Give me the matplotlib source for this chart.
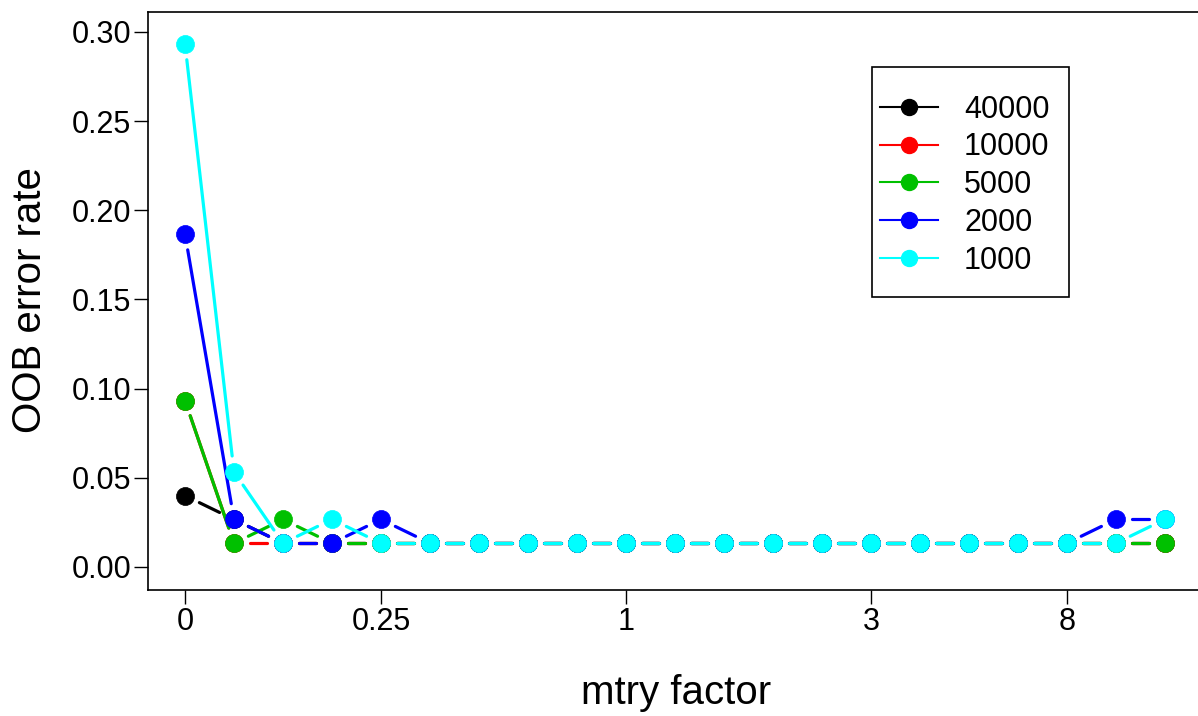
import numpy as np
import matplotlib
matplotlib.use("Agg")
import matplotlib.pyplot as plt
from matplotlib.lines import Line2D
from matplotlib.patches import Rectangle

plt.rcParams['font.family'] = ['Liberation Sans', 'DejaVu Sans']

# mtry factor positions (21 steps), labelled ones only
x_pos = list(range(21))
tick_pos = [0, 4, 9, 14, 18]
tick_labels = ['0', '0.25', '1', '3', '8']

a = 1 / 75  # one error in 75 OOB samples
ntree_labels = ['40000', '10000', '5000', '2000', '1000']
colors = ['black', 'red', '#00c000', 'blue', 'cyan']

err_40000 = [3*a, 2*a, a, a, a, a, a, a, a, a, a, a, a, a, a, a, a, a, a, a, a]
err_10000 = [7*a, a, a, a, a, a, a, a, a, a, a, a, a, a, a, a, a, a, a, a, a]
err_5000 = [7*a, a, 2*a, a, a, a, a, a, a, a, a, a, a, a, a, a, a, a, a, a, a]
err_2000 = [14*a, 2*a, a, a, 2*a, a, a, a, a, a, a, a, a, a, a, a, a, a, a, 2*a, 2*a]
err_1000 = [22*a, 4*a, a, 2*a, a, a, a, a, a, a, a, a, a, a, a, a, a, a, a, a, 2*a]
series = [err_40000, err_10000, err_5000, err_2000, err_1000]

W, H = 1198, 716
fig = plt.figure(figsize=(W/100, H/100), dpi=100)
# plot box runs past the right edge of the image, as in the original
ax = fig.add_axes([148/W, 1-590/H, 1056/W, 578/H])
ax.set_xlim(-0.755, 20.8)
ax.set_ylim(-0.0129, 0.3112)

gap = 16  # pixels left open around each point (R type="b")
fig.canvas.draw()
tr = ax.transData
inv = tr.inverted()

for ys, c in zip(series, colors):
    pts = tr.transform(np.column_stack([x_pos, ys]))
    for p0, p1 in zip(pts[:-1], pts[1:]):
        d = p1 - p0
        L = np.hypot(*d)
        if L <= 2 * gap:
            continue
        u = d / L
        seg = inv.transform(np.array([p0 + u*gap, p1 - u*gap]))
        ax.plot(seg[:, 0], seg[:, 1], color=c, lw=2.3, solid_capstyle='round')
    ax.plot(x_pos, ys, 'o', color=c, ms=13, mec=c, mew=0.5, ls='none')

ax.set_xticks(tick_pos)
ax.set_xticklabels(tick_labels)
ax.set_yticks([0, 0.05, 0.10, 0.15, 0.20, 0.25, 0.30])
ax.set_yticklabels(['0.00', '0.05', '0.10', '0.15', '0.20', '0.25', '0.30'])
ax.tick_params(labelsize=22, length=10, width=1, pad=2)
for s in ax.spines.values():
    s.set_linewidth(1.2)
ax.spines['right'].set_visible(False)

ax.set_ylabel('OOB error rate', fontsize=29)
ax.yaxis.set_label_coords((30-148)/1056, (590-300)/578)
ax.yaxis.label.set_va('center')
ax.set_xlabel('mtry factor', fontsize=29)
ax.xaxis.set_label_coords((676-148)/1056, (590-693)/578)
ax.xaxis.label.set_va('center')

# legend entries without frame, box drawn separately (R style padding)
handles = [Line2D([], [], color=c, lw=1.5, marker='o', ms=11.5) for c in colors]
leg = fig.legend(handles, ntree_labels, loc='upper left',
                 bbox_to_anchor=(880/W, 1-94.5/H), fontsize=22,
                 frameon=False, handlelength=1.9,
                 labelspacing=0.255, borderpad=0, handletextpad=0.85,
                 borderaxespad=0)
fig.add_artist(Rectangle((872/W, 1-297/H), (1069-872)/W, (297-67)/H,
                         transform=fig.transFigure, fill=False,
                         edgecolor='black', linewidth=1.2))

fig.savefig('out.png', dpi=100)
